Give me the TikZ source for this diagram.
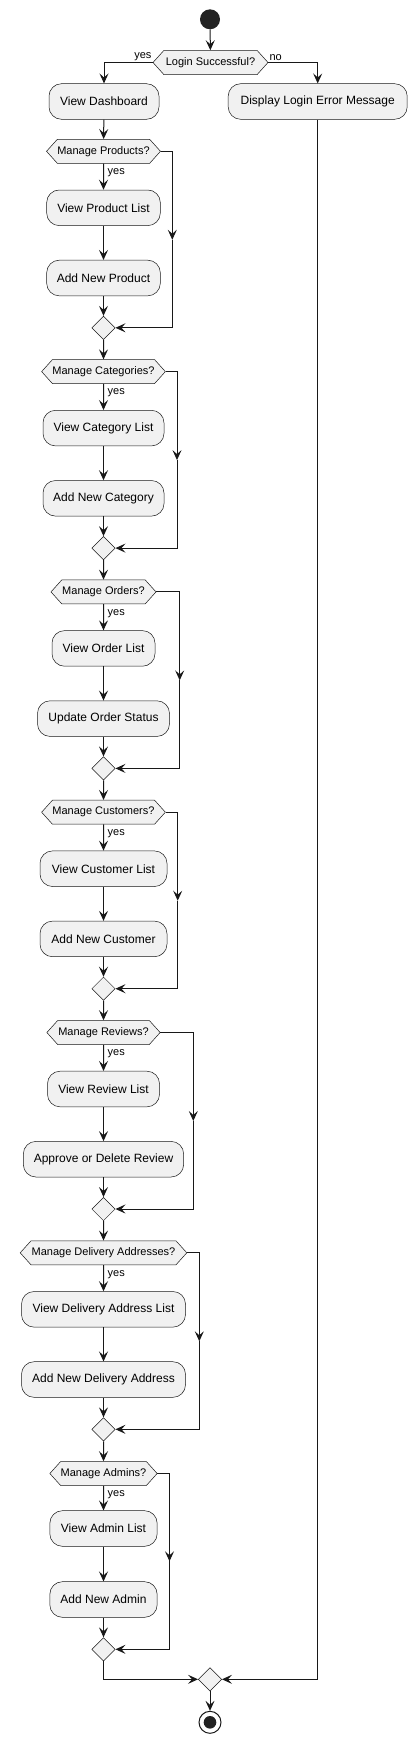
\documentclass[tikz,border=0pt]{standalone}
\usepackage{fontspec}
\setmainfont{Liberation Sans}
\usepackage{tikz}
\usetikzlibrary{positioning, arrows.meta, shapes.geometric, shapes.symbols, calc}

\begin{document}
\begin{tikzpicture}[x=1pt, y=-1pt,
  act/.style={draw=umlLine, line width=0.5pt, fill=umlFill, rounded corners=12.5pt,
    minimum height=35.6pt, inner sep=0pt, font=\fontsize{12}{14}\selectfont},
  ask/.style={signal, signal to=west and east, signal pointer angle=96,
    draw=umlLine, line width=0.5pt, fill=umlFill, minimum height=24pt,
    inner sep=0pt, font=\fontsize{11}{13}\selectfont},
  joint/.style={diamond, draw=umlLine, line width=0.5pt, fill=umlFill,
    minimum width=23.4pt, minimum height=23.4pt, inner sep=0pt},
  flow/.style={-{Stealth[length=10pt, width=9pt, inset=4pt]}, line width=1pt, umlLine},
  lbl/.style={font=\fontsize{11}{13}\selectfont, inner sep=0pt}]

\definecolor{umlFill}{HTML}{F1F1F1}
\definecolor{umlLine}{HTML}{181818}
\definecolor{umlDot}{HTML}{222222}

\useasboundingbox (0,0) rectangle (416,1743);

% start and login check
\node[circle, fill=umlDot, minimum size=20pt, inner sep=0pt] (start) at (210,19.3) {};
\node[ask, minimum width=115pt] (login) at (210.5,62.5) {Login Successful?};
\node[act, minimum width=110pt] (dash) at (104,101.5) {View Dashboard};
\node[act, minimum width=179pt] (err) at (317.7,101.5) {Display Login Error Message};
\draw[flow] (start) -- (login);
\draw[flow] (login.west) -| (dash);
\draw[flow] (login.east) -| (err);
\node[lbl, anchor=south east] at ($(login.west)+(-1,-2)$) {yes};
\node[lbl, anchor=south west] at ($(login.east)+(1,-2)$) {no};

% ===== Products (y=151) =====
\node[ask, minimum width=113.3pt] (q1) at (103.5,151.3) {Manage Products?};
\node[act, minimum width=113.6pt] (a1) at (103.5,207.8) {View Product List};
\node[act, minimum width=113.6pt] (b1) at (103.5,278.0) {Add New Product};
\node[joint] (j1) at (103.5,327.8) {};
\coordinate (m1) at (172.3,239.8);
\draw[flow] (dash) -- (q1);
\draw[flow] (q1) -- (a1);
\draw[flow] (a1) -- (b1);
\draw[flow] (b1) -- (j1);
\draw[flow] (q1.east) -| (m1);
\draw[flow] (m1) |- (j1);
\node[lbl, anchor=north west] at ($(q1.south)+(4,5)$) {yes};

% ===== Categories (y=372) =====
\node[ask, minimum width=123pt] (q2) at (103.5,371.6) {Manage Categories?};
\node[act, minimum width=121pt] (a2) at (103.5,428.1) {View Category List};
\node[act, minimum width=121pt] (b2) at (103.5,498.3) {Add New Category};
\node[joint] (j2) at (103.5,548.1) {};
\coordinate (m2) at (177,460.1);
\draw[flow] (j1) -- (q2);
\draw[flow] (q2) -- (a2);
\draw[flow] (a2) -- (b2);
\draw[flow] (b2) -- (j2);
\draw[flow] (q2.east) -| (m2);
\draw[flow] (m2) |- (j2);
\node[lbl, anchor=north west] at ($(q2.south)+(4,5)$) {yes};

% ===== Orders (y=592) =====
\node[ask, minimum width=105pt] (q3) at (103.5,591.9) {Manage Orders?};
\node[act, minimum width=103pt] (a3) at (103.5,648.4) {View Order List};
\node[act, minimum width=132pt] (b3) at (103.5,718.6) {Update Order Status};
\node[joint] (j3) at (103.5,768.4) {};
\coordinate (m3) at (179.7,680.4);
\draw[flow] (j2) -- (q3);
\draw[flow] (q3) -- (a3);
\draw[flow] (a3) -- (b3);
\draw[flow] (b3) -- (j3);
\draw[flow] (q3.east) -| (m3);
\draw[flow] (m3) |- (j3);
\node[lbl, anchor=north west] at ($(q3.south)+(4,5)$) {yes};

% ===== Customers (y=812) =====
\node[ask, minimum width=122.3pt] (q4) at (103.5,812.2) {Manage Customers?};
\node[act, minimum width=127pt] (a4) at (103.5,868.7) {View Customer List};
\node[act, minimum width=127pt] (b4) at (103.5,938.9) {Add New Customer};
\node[joint] (j4) at (103.5,988.7) {};
\coordinate (m4) at (177.7,900.7);
\draw[flow] (j3) -- (q4);
\draw[flow] (q4) -- (a4);
\draw[flow] (a4) -- (b4);
\draw[flow] (b4) -- (j4);
\draw[flow] (q4.east) -| (m4);
\draw[flow] (m4) |- (j4);
\node[lbl, anchor=north west] at ($(q4.south)+(4,5)$) {yes};

% ===== Reviews (y=1032) =====
\node[ask, minimum width=113.3pt] (q5) at (103.5,1032.5) {Manage Reviews?};
\node[act, minimum width=112pt] (a5) at (103.5,1089.0) {View Review List};
\node[act, minimum width=160.3pt] (b5) at (103.5,1159.2) {Approve or Delete Review};
\node[joint] (j5) at (103.5,1209.0) {};
\coordinate (m5) at (193.3,1121.0);
\draw[flow] (j4) -- (q5);
\draw[flow] (q5) -- (a5);
\draw[flow] (a5) -- (b5);
\draw[flow] (b5) -- (j5);
\draw[flow] (q5.east) -| (m5);
\draw[flow] (m5) |- (j5);
\node[lbl, anchor=north west] at ($(q5.south)+(4,5)$) {yes};

% ===== Delivery addresses (y=1253) =====
\node[ask, minimum width=166.6pt] (q6) at (103.5,1252.8) {Manage Delivery Addresses?};
\node[act, minimum width=164pt] (a6) at (103.5,1309.3) {View Delivery Address List};
\node[act, minimum width=164pt] (b6) at (103.5,1379.5) {Add New Delivery Address};
\node[joint] (j6) at (103.5,1429.3) {};
\coordinate (m6) at (199.3,1341.3);
\draw[flow] (j5) -- (q6);
\draw[flow] (q6) -- (a6);
\draw[flow] (a6) -- (b6);
\draw[flow] (b6) -- (j6);
\draw[flow] (q6.east) -| (m6);
\draw[flow] (m6) |- (j6);
\node[lbl, anchor=north west] at ($(q6.south)+(4,5)$) {yes};

% ===== Admins (y=1473) =====
\node[ask, minimum width=107.3pt] (q7) at (103.5,1473.5) {Manage Admins?};
\node[act, minimum width=107.3pt] (a7) at (103.5,1528.5) {View Admin List};
\node[act, minimum width=107.3pt] (b7) at (103.5,1599.5) {Add New Admin};
\node[joint] (j7) at (103.5,1649.3) {};
\coordinate (m7) at (169.5,1561.3);
\draw[flow] (j6) -- (q7);
\draw[flow] (q7) -- (a7);
\draw[flow] (a7) -- (b7);
\draw[flow] (b7) -- (j7);
\draw[flow] (q7.east) -| (m7);
\draw[flow] (m7) |- (j7);
\node[lbl, anchor=north west] at ($(q7.south)+(4,5)$) {yes};

% final merge and end
\node[joint] (fin) at (210,1679.3) {};
\node[circle, draw=umlLine, line width=1pt, fill=white, minimum size=22pt, inner sep=0pt] (stop) at (210,1722.3) {};
\fill[umlDot] (stop.center) circle (6.3pt);
\draw[flow] (j7) |- (fin);
\draw[flow] (err) |- (fin);
\draw[flow] (fin) -- (stop);

\end{tikzpicture}
\end{document}
